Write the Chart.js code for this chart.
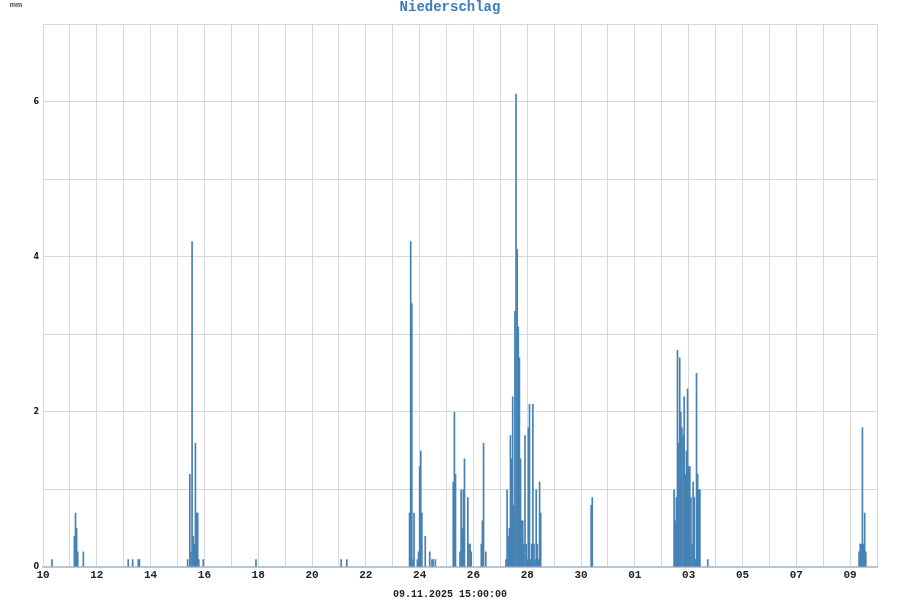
<!DOCTYPE html>
<html>
<head>
<meta charset="utf-8">
<script src="https://cdn.jsdelivr.net/npm/chart.js@4/dist/chart.umd.min.js"></script>
<style>
  html, body { margin: 0; padding: 0; background: #ffffff; }
  #wrap { width: 900px; height: 600px; }
</style>
</head>
<body>
<div id="wrap"><canvas id="c" width="900" height="600"></canvas></div>
<script>
// ---- texts ----
const chartTitle = 'Niederschlag';
const unitLabel = 'mm';
const timestampLabel = '09.11.2025 15:00:00';

// ---- x axis: hours since 10.10.2025 00:00, one tick per day ----
const spanHours = 744;
const dayTickLabels = ['10','11','12','13','14','15','16','17','18','19','20','21','22','23','24','25',
  '26','27','28','29','30','31','01','02','03','04','05','06','07','08','09','10'];

// ---- y axis ----
const yMax = 7;

// ---- hourly precipitation (only hours with rain), hour offset and mm ----
const rainHours = [
  8,
  28, 29, 30, 31, 36,
  76, 80, 85, 86,
  129, 131, 132, 133, 134, 135, 136, 137, 138, 139, 143,
  190,
  266, 271,
  327, 328, 329, 330, 331, 334, 335, 336, 337, 338, 341, 345, 347, 348, 350,
  366, 367, 368, 372, 373, 374, 375, 376, 379, 380, 381, 382,
  391, 392, 393, 395,
  413, 414, 415, 416, 417, 418, 419, 420, 421, 422, 423, 424, 425, 426, 427, 428, 429,
  430, 431, 432, 433, 434, 435, 436, 437, 438, 439, 440, 441, 442, 443, 444,
  489, 490,
  563, 564, 565, 566, 567, 568, 569, 570, 571, 572, 573, 574, 575, 576, 577, 578, 579,
  580, 581, 582, 583, 584, 585, 586,
  593,
  728, 729, 730, 731, 732, 733, 734
];
const rainMm = [
  0.1,
  0.4, 0.7, 0.5, 0.2, 0.2,
  0.1, 0.1, 0.1, 0.1,
  0.1, 1.2, 0.2, 4.2, 0.4, 0.3, 1.6, 0.7, 0.7, 0.1, 0.1,
  0.1,
  0.1, 0.1,
  0.7, 4.2, 3.4, 0.1, 0.7, 0.1, 0.2, 1.3, 1.5, 0.7, 0.4, 0.2, 0.1, 0.1, 0.1,
  1.1, 2.0, 1.2, 0.2, 1.0, 0.5, 1.0, 1.4, 0.9, 0.3, 0.3, 0.2,
  0.3, 0.6, 1.6, 0.2,
  0.1, 1.0, 0.4, 0.5, 1.7, 1.4, 2.2, 0.8, 3.3, 6.1, 4.1, 3.1, 2.7, 1.4, 0.6, 0.6, 0.3,
  1.7, 0.3, 0.1, 1.8, 2.1, 0.1, 0.3, 2.1, 0.3, 0.1, 1.0, 0.3, 0.1, 1.1, 0.7,
  0.8, 0.9,
  1.0, 0.6, 0.9, 2.8, 1.6, 2.7, 2.0, 1.8, 1.7, 2.2, 1.2, 1.5, 2.3, 1.3, 1.3, 0.9, 0.3,
  1.1, 0.9, 0.1, 2.5, 1.2, 1.0, 1.0,
  0.1,
  0.2, 0.3, 0.3, 1.8, 0.3, 0.7, 0.2
];

const points = rainHours.map((h, i) => ({ x: h, y: rainMm[i] }));

const unitPlugin = {
  id: 'unitLabel',
  afterDraw(chart) {
    const ctx = chart.ctx;
    ctx.save();
    ctx.font = 'bold 7px "Liberation Sans", sans-serif';
    ctx.fillStyle = '#444444';
    ctx.textAlign = 'center';
    ctx.textBaseline = 'middle';
    ctx.fillText(unitLabel, 16, 5.5);
    ctx.restore();
  }
};

new Chart(document.getElementById('c'), {
  type: 'bar',
  data: {
    datasets: [{
      data: points,
      backgroundColor: '#4682b4',
      borderWidth: 0,
      barPercentage: 1.5,
      categoryPercentage: 1
    }]
  },
  options: {
    responsive: false,
    animation: false,
    devicePixelRatio: 1,
    layout: { padding: { left: 23, right: 23, top: 0, bottom: 0 } },
    plugins: {
      legend: { display: false },
      tooltip: { enabled: false },
      title: {
        display: true,
        text: chartTitle,
        color: '#3b7dbd',
        font: { family: '"Liberation Mono", monospace', weight: 'bold', size: 14, lineHeight: 1 },
        padding: { top: 0, bottom: 10 }
      },
      subtitle: {
        display: true,
        position: 'bottom',
        text: timestampLabel,
        color: '#222222',
        font: { family: '"Liberation Mono", monospace', weight: 'bold', size: 10, lineHeight: 1.2 },
        padding: { top: 0, bottom: 0 }
      }
    },
    scales: {
      x: {
        type: 'linear',
        min: 0,
        max: spanHours,
        offset: false,
        grid: { color: '#d9d9d9', lineWidth: 1, drawTicks: false, offset: false },
        border: { color: '#b4c6d8', width: 2 },
        ticks: {
          stepSize: 24,
          autoSkip: false,
          maxRotation: 0,
          padding: 2,
          color: '#222222',
          font: { family: '"Liberation Mono", monospace', weight: 'bold', size: 11 },
          callback: (v) => {
            const d = Math.round(v / 24);
            return d % 2 === 0 ? dayTickLabels[d] : '';
          }
        },
        afterFit: (s) => { s.height = 21; }
      },
      y: {
        min: 0,
        max: yMax,
        grid: { color: '#d9d9d9', lineWidth: 1, drawTicks: false },
        border: { color: '#d9d9d9', width: 1 },
        ticks: {
          stepSize: 1,
          padding: 4,
          color: '#222222',
          font: { family: '"DejaVu Sans", sans-serif', weight: 'bold', size: 8 },
          callback: (v) => (v % 2 === 0 ? String(v) : '')
        },
        afterFit: (s) => { s.width = 20; }
      }
    }
  },
  plugins: [unitPlugin]
});
</script>
</body>
</html>
